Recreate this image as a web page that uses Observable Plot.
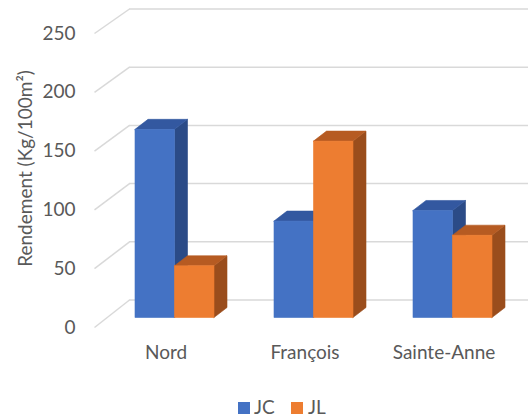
<!DOCTYPE html>
<html><head><meta charset="utf-8">
<script src="https://cdn.jsdelivr.net/npm/d3@7"></script>
<script src="https://cdn.jsdelivr.net/npm/@observablehq/plot@0.6"></script>
<style>
body{margin:0;background:#fff;font-family:Lato,sans-serif;overflow:hidden;}
#legend{position:relative;width:528px;height:29px;color:#595959;font-size:19px;line-height:16px;font-family:Lato,sans-serif;}
.sw{position:absolute;width:12px;height:12px;top:12px;}
.lb{position:absolute;top:9px;white-space:nowrap;}
</style></head><body><div id="chart"></div><div id="legend"></div>
<script>
// ---- data ----
const categories = ["Nord", "François", "Sainte-Anne"];
const seriesNames = ["JC", "JL"];
const valuesJC = [160, 82, 91];
const valuesJL = [44, 150, 70];
const yTicks = [0, 50, 100, 150, 200, 250];
const yTitle = "Rendement (Kg/100m²)";

// ---- styles / layout ----
const palette = {
  JC: {front: "#4472c4", top: "#3358a0", side: "#2b4b87"},
  JL: {front: "#ed7d31", top: "#b65b22", side: "#9a4d1c"}
};
const W = 528, H = 390;
const yFront0 = 327, yFront250 = 33;            // front plane pixel positions of 0 and 250
const PXV = 250 / (yFront0 - yFront250);         // value units per pixel
const groupStart = 135, groupStep = 139, barW = 39.5;
const depthX = 13, depthY = 10 * PXV, base = 9.5 * PXV;
const wallFrontX = 94, wallBackX = 129;
const backVal = t => (yFront0 - (299.5 - t * 291 / 250)) * PXV;
const titleX = 25, titleY = (yFront0 - 168) * PXV;

const valuesBySeries = {JC: valuesJC, JL: valuesJL};
const rows = [];
seriesNames.forEach((s, si) => {
  categories.forEach((c, ci) => {
    const L = groupStart + groupStep * ci + barW * si;
    rows.push({series: s, cat: c, id: s + "-" + c, L, R: L + barW, v: valuesBySeries[s][ci]});
  });
});

const barMarks = seriesNames.flatMap(s => {
  const rs = rows.filter(r => r.series === s);
  const col = palette[s];
  const sides = rs.flatMap(r => [
    {id: r.id, x: r.R, y1: base, y2: base + r.v},
    {id: r.id, x: r.R + depthX, y1: base + depthY, y2: base + r.v + depthY}
  ]);
  const tops = rs.flatMap(r => [
    {id: r.id, y: base + r.v, x1: r.L, x2: r.R},
    {id: r.id, y: base + r.v + depthY, x1: r.L + depthX, x2: r.R + depthX}
  ]);
  return [
    Plot.areaY(sides, {x: "x", y1: "y1", y2: "y2", z: "id", fill: col.side, stroke: col.side, strokeWidth: 0.6}),
    Plot.areaX(tops, {y: "y", x1: "x1", x2: "x2", z: "id", fill: col.top, stroke: col.top, strokeWidth: 0.6}),
    Plot.rect(rs, {x1: "L", x2: "R", y1: () => base, y2: r => base + r.v, fill: col.front, stroke: col.front, strokeWidth: 0.6})
  ];
});

const chart = Plot.plot({
  width: W,
  height: H,
  marginLeft: wallFrontX,
  marginTop: 0,
  marginRight: 0,
  marginBottom: 0,
  style: {fontFamily: "Lato, sans-serif", fontSize: "19px", color: "#595959", background: "#fff", overflow: "visible"},
  x: {type: "linear", domain: [0, W], range: [0, W], axis: null},
  y: {type: "linear", domain: [0, 250], range: [yFront0, yFront250]},
  marks: [
    Plot.ruleY(yTicks, {y: t => backVal(t), x1: wallBackX, x2: W, stroke: "#d9d9d9", strokeWidth: 1.5}),
    Plot.link(yTicks, {x1: wallFrontX, y1: t => t, x2: wallBackX, y2: t => backVal(t), stroke: "#d9d9d9", strokeWidth: 1.5}),
    Plot.axisY(yTicks, {anchor: "left", tickSize: 0, tickPadding: 19, fontSize: 19, label: null, fill: "#595959"}),
    ...barMarks,
    Plot.text(categories, {x: (d, i) => groupStart + groupStep * i + barW - 9, y: () => 0, dy: 25, fontSize: 19, fill: "#595959"}),
    Plot.text([yTitle], {x: () => titleX, y: () => titleY, rotate: -90, fontSize: 19, fill: "#595959"})
  ]
});
document.getElementById("chart").appendChild(chart);

// ---- legend ----
const legend = document.getElementById("legend");
const legendPos = {JC: {sw: 238, lb: 254}, JL: {sw: 291, lb: 308}};
seriesNames.forEach(s => {
  const sw = document.createElement("div");
  sw.className = "sw";
  sw.style.left = legendPos[s].sw + "px";
  sw.style.background = palette[s].front;
  legend.appendChild(sw);
  const lb = document.createElement("div");
  lb.className = "lb";
  lb.style.left = legendPos[s].lb + "px";
  lb.textContent = s;
  legend.appendChild(lb);
});
</script>
</body></html>
